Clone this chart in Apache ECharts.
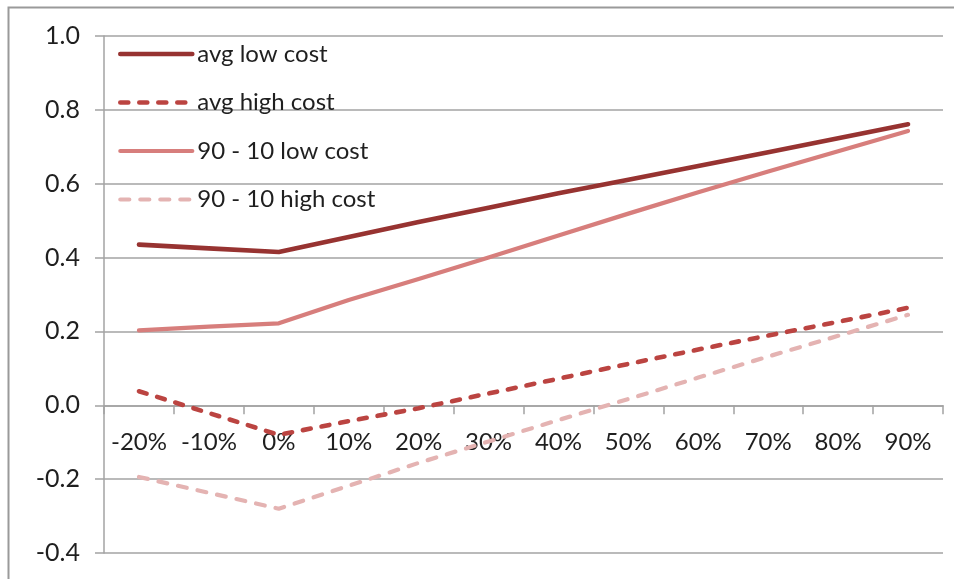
<!DOCTYPE html>
<html>
<head>
<meta charset="utf-8">
<style>
  html, body { margin: 0; padding: 0; background: #fff; }
  #chart { width: 954px; height: 579px; }
</style>
<script src="https://cdn.jsdelivr.net/npm/echarts@6/dist/echarts.min.js"></script>
</head>
<body>
<div id="chart"></div>
<script>
// Price change scenarios along the x axis
const categories = ['-20%', '-10%', '0%', '10%', '20%', '30%', '40%', '50%', '60%', '70%', '80%', '90%'];

const avgLowCost   = [0.435, 0.425, 0.415, 0.456, 0.496, 0.535, 0.574, 0.611, 0.648, 0.685, 0.723, 0.761];
const avgHighCost  = [0.038, -0.021, -0.080, -0.043, -0.008, 0.032, 0.072, 0.112, 0.151, 0.189, 0.226, 0.264];
const p9010LowCost = [0.203, 0.213, 0.222, 0.285, 0.342, 0.400, 0.460, 0.519, 0.577, 0.633, 0.688, 0.743];
const p9010HighCost = [-0.194, -0.237, -0.280, -0.218, -0.156, -0.098, -0.040, 0.017, 0.075, 0.132, 0.188, 0.245];

const seriesNames = ['avg low cost', 'avg high cost', '90 - 10 low cost', '90 - 10 high cost'];

// value axis range
const Y_MIN = -0.4, Y_MAX = 1.0, Y_STEP = 0.2;

const FONT = 'Lato';
const TEXT = '#1f1f1f';
const GRID = '#a3a3a3';

const GRID_TOP = 36, GRID_BOTTOM = 26;
const CHART_H = 579;
// the category axis sits on the zero line, labels included
const plotH = CHART_H - GRID_TOP - GRID_BOTTOM;
const zeroOffset = -plotH * (0 - Y_MIN) / (Y_MAX - Y_MIN);

const chart = echarts.init(document.getElementById('chart'), null, { renderer: 'canvas' });

function lineSeries(name, data, color, width, dash) {
  return {
    name: name,
    type: 'line',
    data: data,
    symbol: 'none',
    showSymbol: false,
    smooth: false,
    lineStyle: {
      color: color,
      width: width,
      type: dash || 'solid',
      cap: 'round',
      join: 'round'
    },
    itemStyle: { color: color },
    emphasis: { disabled: true },
    animation: false
  };
}

chart.setOption({
  animation: false,
  backgroundColor: '#ffffff',
  graphic: [{
    type: 'rect',
    left: 6, top: 5,
    shape: { width: 1200, height: 800 },
    style: { fill: 'none', stroke: '#9a9a9a', lineWidth: 2 },
    silent: true,
    z: -1
  }],
  grid: {
    left: 104, right: 11, top: GRID_TOP, bottom: GRID_BOTTOM,
    containLabel: false,
    outerBoundsMode: 'none'
  },
  legend: {
    orient: 'vertical',
    left: 118,
    top: 42,
    padding: 0,
    itemWidth: 72,
    itemHeight: 24,
    itemGap: 24.5,
    data: seriesNames,
    itemStyle: { opacity: 0, borderWidth: 0 },
    lineStyle: { width: 'inherit' },
    textStyle: { fontFamily: FONT, fontSize: 24, color: TEXT, lineHeight: 24 },
    backgroundColor: 'transparent'
  },
  xAxis: {
    type: 'category',
    data: categories,
    boundaryGap: true,
    position: 'bottom',
    offset: zeroOffset,
    axisLine: { onZero: false, lineStyle: { color: GRID, width: 1.5 } },
    axisTick: { show: true, interval: 0, length: 9, lineStyle: { color: GRID, width: 1.5 } },
    axisLabel: { interval: 0, margin: 25, fontFamily: FONT, fontSize: 24, color: TEXT, hideOverlap: false },
    splitLine: { show: false }
  },
  yAxis: {
    type: 'value',
    min: Y_MIN,
    max: Y_MAX,
    interval: Y_STEP,
    axisLine: { show: true, lineStyle: { color: GRID, width: 1.5 } },
    axisTick: { show: true, length: 9, lineStyle: { color: GRID, width: 1.5 } },
    axisLabel: {
      margin: 24,
      fontFamily: FONT, fontSize: 25, color: TEXT,
      formatter: v => v.toFixed(1)
    },
    splitLine: { show: true, lineStyle: { color: GRID, width: 1.5 } }
  },
  series: [
    lineSeries(seriesNames[0], avgLowCost, '#973331', 4.6),
    lineSeries(seriesNames[1], avgHighCost, '#bb4441', 4.6, [8, 11]),
    lineSeries(seriesNames[2], p9010LowCost, '#d77e7c', 4.2),
    lineSeries(seriesNames[3], p9010HighCost, '#e4b3b2', 4.2, [9, 11])
  ]
});
</script>
</body>
</html>
